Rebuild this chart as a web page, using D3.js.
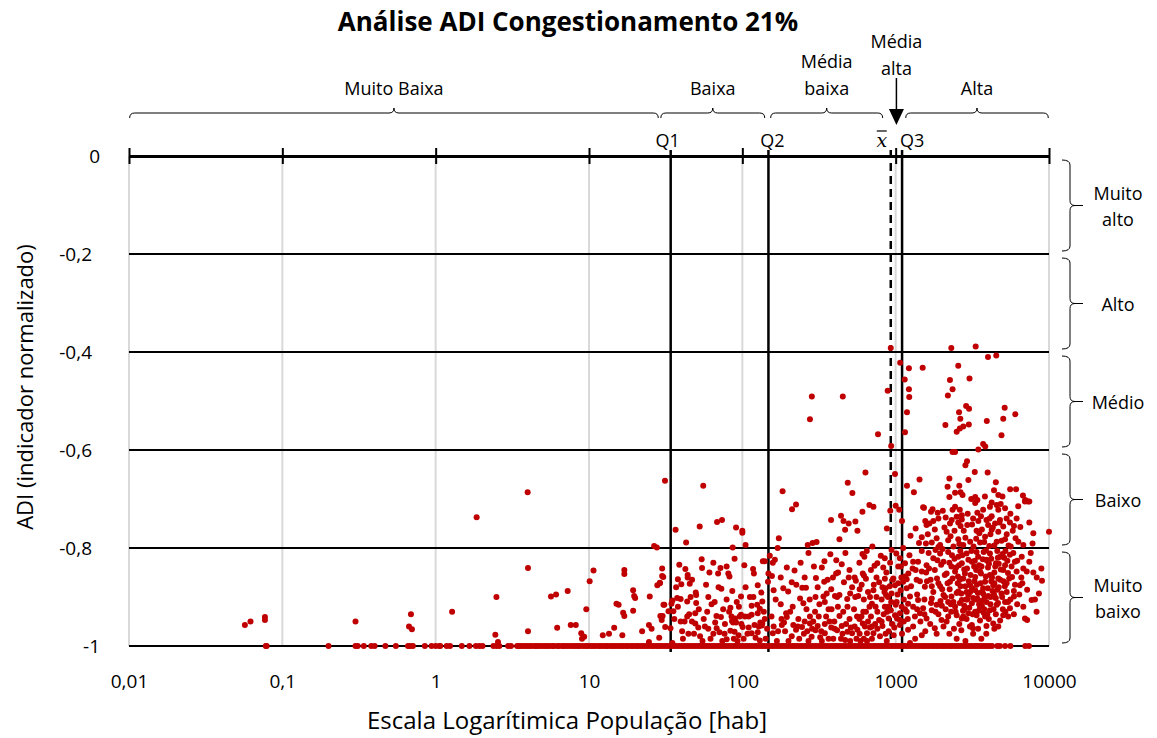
<!DOCTYPE html>
<html>
<head>
<meta charset="utf-8">
<script src="https://cdn.jsdelivr.net/npm/d3@7"></script>
<style>
  body { margin: 0; background: #fff; }
  svg { display: block; }
  text { font-family: "Open Sans", "Noto Sans", sans-serif; fill: #000; }
</style>
</head>
<body>
<svg id="chart" width="1157" height="738"></svg>
<script>
// ---- axis ticks ----
const xTickValues = [0.01, 0.1, 1, 10, 100, 1000, 10000];
const yTickValues = [0, -0.2, -0.4, -0.6, -0.8, -1];

// ---- statistics of the population distribution ----
const statNames  = ["Q1", "Q2", "x̄", "Q3"];
const statValues = [34.1, 148, 929, 1101];

// ---- population classes (top braces) ----
const popClassLabels = [["Muito Baixa"], ["Baixa"], ["Média", "baixa"], ["Alta"]];
const popClassRanges = [[0.0101, 28.3], [29.4, 140], [153, 823], [1163, 9894]];
const arrowClassLabel = ["Média", "alta"];   // class between mean and Q3

// ---- ADI classes (right braces) ----
const adiClassLabels = [["Muito", "alto"], ["Alto"], ["Médio"], ["Baixo"], ["Muito", "baixo"]];
const adiClassRanges = [[0, -0.2], [-0.2, -0.4], [-0.4, -0.6], [-0.6, -0.8], [-0.8, -1]];

// ---- municipalities with ADI = -1 (population, hab) ----
const popAtMinimum = [
  0.078, 0.079, 0.2, 0.3, 0.31, 0.34, 0.38, 0.4, 0.47, 0.55, 0.66, 0.68, 0.71, 0.85, 0.94, 1.0, 1.06, 1.07,
  1.18, 1.24, 1.48, 1.66, 1.83, 1.93, 2.02, 2.38, 2.5, 2.6, 2.97, 3.1, 3.4,
  3.5, 3.6, 3.75, 3.9, 4.05, 4.2, 4.4, 4.55, 4.7, 4.9, 5.1, 5.3, 5.5, 5.75, 5.9, 6.2, 6.4, 6.7, 6.9, 7.2,
  7.5, 7.8, 8.1, 8.4, 8.7, 9.1, 9.5, 9.8, 10.2, 10.6, 11, 11.5, 11.9, 12.4, 12.9, 13.3, 13.9, 14.4, 15,
  15.6, 16.2, 16.8, 17.5, 18.1, 18.9, 19.6, 20.4, 21.1, 22, 22.8, 23.7, 24.6, 25.6, 26.5, 27.6, 28.6,
  29.7, 30.9, 32.1, 33.3, 34.6, 35.9, 37.3, 38.8, 40.3, 41.8, 43.5, 45.1, 46.9, 48.7, 50.6, 52.5, 54.5,
  56.7, 58.8, 61.1, 63.5, 65.9, 68.5, 71.1, 73.8, 76.7, 79.6, 82.7, 85.9, 89.2, 92.7, 96.2, 99.9, 104,
  108, 112, 116, 121, 125, 130, 135, 140, 146, 151, 157, 163, 170, 176, 183, 190, 197, 205, 213, 221,
  229, 238, 247, 257, 267, 277, 288, 299, 310, 322, 335, 348, 361, 375, 390, 405, 420, 436, 453, 471,
  489, 508, 527, 548, 569, 591, 613, 637, 662, 687, 714, 741, 770, 800, 830, 862, 896, 930, 966, 1003,
  1040, 1080, 1125, 1170, 1210, 1260, 1310, 1360, 1410, 1470, 1520, 1580, 1640, 1710, 1770, 1840, 1910,
  1990, 2060, 2140, 2230, 2310, 2400, 2500, 2590, 2690, 2800, 2910, 3020, 3130, 3260, 3380, 3510, 3650,
  3790, 3940, 4090, 4250, 4600, 4780, 5170, 5600, 7000, 7400
];

// ---- municipalities [population, ADI] : very low population ----
const pointsVeryLow = [
  [0.057,-0.957],[0.062,-0.95],[0.077,-0.941],[0.077,-0.947],[0.3,-0.95],[0.69,-0.935],[0.67,-0.96],[0.7,-0.966],
  [1.85,-0.737],[3.98,-0.686],[4.0,-0.841],[4.0,-0.97],[1.28,-0.93],[2.49,-0.9],[2.45,-0.977],[2.55,-0.992],
  [5.65,-0.899],[6.1,-0.895],[7.26,-0.888],[6.2,-0.963],[7.6,-0.957],[8.2,-0.957],[8.9,-0.974],[9.3,-0.981],
  [9.0,-0.985],[9.6,-0.925],[10.1,-0.868],[10.7,-0.846],[12.3,-0.978],[13.5,-0.975],[14.6,-0.963],[15.1,-0.914],
  [15.6,-0.916],[16.5,-0.978],[16.7,-0.932],[17,-0.939],[17,-0.845],[17,-0.853],[19.4,-0.886],[19.7,-0.898],
  [20,-0.902],[19.4,-0.928],[22.2,-0.97],[24.6,-0.957],[25.6,-0.965],[24.9,-0.899],[24.6,-0.992],[26.6,-0.796],
  [27.7,-0.799],[27.9,-0.876],[29,-0.872],[30,-0.842],[30.5,-0.859],[31,-0.916],[29.2,-0.939],[29.8,-0.947],
  [30.2,-0.939],[31.3,-0.663],[28.7,-0.983],[31.4,-0.961],[30,-0.857],[29,-0.871],[30.6,-0.916],[33,-0.929]
];

// ---- low population (Q1 to Q2) ----
const pointsLow = [
  [55.6,-0.673],[36.7,-0.763],[52.7,-0.756],[68.4,-0.747],[73.7,-0.743],[91,-0.758],[100,-0.765],[100,-0.769],
  [86.5,-0.799],[43,-0.789],[54.3,-0.823],[54.6,-0.841],[64.7,-0.83],[61,-0.85],[69.5,-0.852],[72,-0.841],
  [79,-0.838],[81,-0.852],[82.4,-0.858],[89,-0.822],[103,-0.835],[117.5,-0.843],[119,-0.852],[136,-0.827],
  [140,-0.827],[38.8,-0.834],[42.5,-0.843],[44,-0.855],[44,-0.86],[38,-0.864],[40,-0.874],[45.4,-0.873],
  [49.7,-0.891],[50,-0.896],[60,-0.9],[73,-0.883],[86,-0.888],[79,-0.905],[98,-0.899],[83.6,-0.922],
  [50,-0.912],[37.6,-0.902],[39.6,-0.904],[43.7,-0.909],[35,-0.907],[34.5,-0.914],[35.5,-0.929],[115,-0.918],
  [125,-0.916],[130,-0.924],[135,-0.909],[126,-0.876],[133,-0.891],[115,-0.936],[126,-0.933],[98,-0.936],
  [85,-0.94],[89.6,-0.944],[87,-0.952],[96,-0.94],[67.8,-0.939],[72.5,-0.941],[66.5,-0.952],[68,-0.964],
  [71,-0.972],[49.3,-0.933],[49.3,-0.954],[51.6,-0.962],[45,-0.935],[43.7,-0.94],[42,-0.95],[39.6,-0.95],
  [46.9,-0.95],[34,-0.964],[40.5,-0.97],[44.5,-0.975],[48.4,-0.975],[53,-0.98],[64.7,-0.975],[76.6,-0.975],
  [83.6,-0.969],[85.6,-0.949],[91,-0.952],[98.6,-0.955],[89,-0.971],[94.5,-0.978],[100.5,-0.961],[110,-0.962],
  [108,-0.975],[115,-0.974],[126,-0.972],[131,-0.952],[134,-0.958],[122,-0.983],[130,-0.989],[79,-0.986],
  [35,-0.994],[120,-0.957],[135,-0.954],[37,-0.88],[47,-0.865],[58,-0.875],[63,-0.915],[75,-0.925],
  [92,-0.91],[105,-0.88],[112,-0.9],[140,-0.945],[36,-0.945],[56,-0.945],[62,-0.985],[93,-0.99],
  [104,-0.94],[145,-0.965],[57,-0.96],[147,-0.869],[148,-0.852],[105,-0.794],
  [38,-0.92],[41,-0.985],[46,-0.9],[52,-0.925],[55,-0.99],[59,-0.93],[66,-0.91],[70,-0.88],
  [77,-0.955],[82,-0.93],[95,-0.92],[102,-0.985],[110,-0.94],[118,-0.9],[128,-0.96],[138,-0.93],
  [142,-0.985],[60,-0.965],[74,-0.99],[88,-0.985]
];

// ---- medium-low population (Q2 to mean) ----
const pointsMediumLow = [
  [929,-0.392],[887,-0.479],[767,-0.568],[284,-0.491],[452,-0.491],[276,-0.537],[935,-0.592],[635,-0.646],
  [487,-0.667],[522,-0.688],[183,-0.684],[224,-0.711],[211,-0.721],[674,-0.712],[716,-0.716],[607,-0.726],
  [922,-0.724],[440,-0.734],[379,-0.743],[457,-0.745],[494,-0.75],[546,-0.746],[468,-0.763],[563,-0.765],
  [876,-0.76],[430,-0.782],[173,-0.78],[267,-0.794],[287,-0.79],[305,-0.788],[648,-0.806],[705,-0.797],
  [151,-0.816],[163,-0.824],[375,-0.813],[343,-0.827],[293,-0.838],[445,-0.833],[607,-0.812],[625,-0.818],
  [759,-0.831],[800,-0.816],[849,-0.821],[728,-0.836],[219,-0.846],[156,-0.857],[302,-0.861],[342,-0.869],
  [421,-0.85],[409,-0.852],[494,-0.86],[550,-0.867],[621,-0.856],[640,-0.863],[610,-0.852],[750,-0.86],
  [850,-0.863],[160,-0.886],[185,-0.882],[199,-0.889],[246,-0.881],[260,-0.881],[238,-0.903],[250,-0.913],
  [213,-0.92],[300,-0.9],[338,-0.899],[380,-0.884],[402,-0.898],[355,-0.893],[430,-0.896],[382,-0.925],
  [483,-0.904],[505,-0.893],[570,-0.898],[582,-0.884],[620,-0.905],[716,-0.886],[750,-0.9],[700,-0.914],
  [675,-0.92],[860,-0.882],[865,-0.896],[915,-0.878],[895,-0.92],[920,-0.927],[158,-0.974],[171,-0.97],
  [181,-0.957],[187,-0.952],[193,-0.933],[195,-0.941],[215,-0.957],[224,-0.967],[245,-0.961],[252,-0.975],
  [276,-0.94],[276,-0.954],[290,-0.95],[283,-0.981],[310,-0.959],[327,-0.97],[345,-0.974],[322,-0.982],
  [380,-0.962],[398,-0.95],[430,-0.939],[445,-0.959],[475,-0.955],[485,-0.971],[520,-0.974],[563,-0.967],
  [582,-0.975],[610,-0.954],[660,-0.95],[680,-0.962],[650,-0.974],[716,-0.974],[780,-0.947],[820,-0.959],
  [860,-0.975],[900,-0.944],[165,-0.905],[178,-0.915],[205,-0.93],[232,-0.945],[262,-0.925],[298,-0.93],
  [318,-0.915],[352,-0.94],[365,-0.925],[392,-0.985],[415,-0.968],[455,-0.93],[468,-0.988],[500,-0.945],
  [535,-0.925],[555,-0.985],[598,-0.94],[640,-0.93],[700,-0.985],[735,-0.955],[760,-0.93],[790,-0.98],
  [835,-0.935],[875,-0.99],[200,-0.99],[235,-0.985],[270,-0.99],[300,-0.968],[168,-0.99],[155,-0.94],
  [440,-0.985],[510,-0.962],[590,-0.99],[650,-0.99],[620,-0.985],[330,-0.99],[365,-0.985],[190,-0.97],
  [255,-0.95],[285,-0.965],[345,-0.955],[420,-0.92],[540,-0.96],[580,-0.945],[690,-0.94],[740,-0.92],
  [810,-0.905],[845,-0.89],[890,-0.9],[780,-0.87],[520,-0.88],[460,-0.87],[360,-0.865],[255,-0.86],
  [225,-0.875],[178,-0.86],[580,-0.83],[690,-0.845],[830,-0.84],[870,-0.85],
  [158,-0.83],[170,-0.8],[195,-0.84],[210,-0.87],[240,-0.83],[270,-0.81],[310,-0.88],[330,-0.84],
  [390,-0.86],[410,-0.825],[470,-0.81],[500,-0.845],[540,-0.86],[600,-0.875],[660,-0.89],[720,-0.875],
  [820,-0.88],[880,-0.93],[810,-0.95],[760,-0.965],[700,-0.96],[630,-0.96],[560,-0.94],[505,-0.99],
  [450,-0.975],[400,-0.965],[370,-0.95],[315,-0.94],[265,-0.97],[230,-0.96],[210,-0.98],[180,-0.945],
  [160,-0.96],[275,-0.905],[345,-0.91],[415,-0.9],[485,-0.92],[545,-0.9],[615,-0.93],[680,-0.9],
  [850,-0.92],[900,-0.97],[920,-0.83]
];

// ---- medium-high and high population (mean and above) ----
const pointsHigh = [
  [990,-0.649],[955,-0.865],[930,-0.927],[970,-0.978],[980,-0.962],[1000,-0.714],[1055,-0.722],
  [2306,-0.392],[3325,-0.389],[4000,-0.41],[4530,-0.407],[1070,-0.422],[1220,-0.433],[1500,-0.432],[2560,-0.428],
  [1145,-0.456],[2260,-0.457],[3030,-0.454],[1220,-0.476],[1226,-0.492],[2350,-0.476],[2190,-0.489],[1185,-0.523],
  [2590,-0.523],[2880,-0.51],[3010,-0.516],[2640,-0.536],[5140,-0.514],[6030,-0.527],[5030,-0.536],[3930,-0.541],
  [2110,-0.549],[3000,-0.548],[2620,-0.556],[2760,-0.552],[2500,-0.563],[1150,-0.564],[4900,-0.57],[3720,-0.588],
  [3840,-0.593],[3460,-0.599],[2350,-0.604],[2440,-0.604],[2920,-0.623],[2850,-0.631],[3280,-0.645],[3980,-0.646],
  [2240,-0.658],[1430,-0.66],[2980,-0.661],[4500,-0.666],[1185,-0.673],[2180,-0.675],[2600,-0.673],[1315,-0.686],
  [2440,-0.687],[2650,-0.686],[2730,-0.692],[4380,-0.682],[4670,-0.692],[4970,-0.695],[5580,-0.68],[6100,-0.68],
  [2240,-0.696],[3110,-0.7],[3300,-0.696],[3410,-0.702],[3820,-0.695],[4230,-0.707],[4560,-0.712],[4840,-0.71],
  [6760,-0.693],[7000,-0.702],[7440,-0.705],[1530,-0.718],[7300,-0.705],
  [1510,-0.717],[1700,-0.726],[1740,-0.721],[2030,-0.724],[2440,-0.716],[2620,-0.722],[2700,-0.733],[3300,-0.708],
  [3410,-0.728],[4120,-0.716],[4230,-0.735],[4670,-0.722],[5170,-0.719],[6970,-0.705],
  [1590,-0.753],[1660,-0.75],[1800,-0.762],[1900,-0.74],[2150,-0.767],[2260,-0.75],[2320,-0.743],[2500,-0.736],
  [2650,-0.755],[2930,-0.753],[3370,-0.765],[3510,-0.77],[3910,-0.743],[4010,-0.753],[4230,-0.763],[4450,-0.75],
  [4670,-0.767],[4790,-0.743],[5030,-0.756],[5290,-0.74],[5560,-0.748],[5910,-0.755],[6150,-0.74],[7440,-0.748],
  [7900,-0.77],[10000,-0.767],
  [1480,-0.778],[1575,-0.791],[1720,-0.789],[1850,-0.78],[1950,-0.794],[2200,-0.784],[2380,-0.797],[2560,-0.782],
  [2760,-0.794],[3060,-0.787],[3220,-0.797],[3550,-0.789],[3830,-0.777],[4080,-0.796],[4560,-0.787],[5170,-0.782],
  [5630,-0.797],[6310,-0.787],[6800,-0.794],[7810,-0.791],
  [940,-0.804],[1010,-0.811],[1065,-0.821],[1150,-0.831],[1300,-0.828],[1400,-0.828],[1590,-0.835],[1760,-0.821],
  [1950,-0.811],[2050,-0.828],[2200,-0.808],[2310,-0.838],[2560,-0.818],[2700,-0.831],[2900,-0.811],[3140,-0.828],
  [3370,-0.808],[3630,-0.838],[3910,-0.824],[4120,-0.811],[4510,-0.831],[4790,-0.818],[5170,-0.835],[5560,-0.814],
  [5990,-0.828],[6640,-0.818],[7160,-0.848],[7440,-0.828],[8920,-0.842],[8320,-0.86],[9000,-0.867],[8600,-0.893],
  [965,-0.862],[1040,-0.838],[1120,-0.869],[1210,-0.852],[1370,-0.865],[1480,-0.848],[1550,-0.879],[1690,-0.865],
  [1800,-0.845],[1900,-0.872],[2090,-0.855],[2260,-0.869],[2440,-0.848],[2620,-0.865],[2830,-0.852],[3060,-0.876],
  [3300,-0.859],[3550,-0.848],[3830,-0.869],[4120,-0.855],[4330,-0.876],[4670,-0.862],[5030,-0.845],[5290,-0.872],
  [5740,-0.859],[6150,-0.848],[6460,-0.876],[1040,-0.872],[1078,-0.886],[1180,-0.864],[1180,-0.882],[990,-0.876],
  [940,-0.893],[1015,-0.91],[1095,-0.92],[1240,-0.899],[1300,-0.92],[1400,-0.906],[1510,-0.923],[1720,-0.903],
  [1850,-0.916],[2050,-0.896],[2200,-0.91],[2310,-0.899],[2440,-0.92],[2560,-0.889],[2700,-0.906],[2830,-0.923],
  [2980,-0.896],[3140,-0.913],[3300,-0.886],[3410,-0.903],[3550,-0.92],[3720,-0.893],[3910,-0.91],[4120,-0.927],
  [4330,-0.899],[4560,-0.916],[4900,-0.893],[5170,-0.91],[5560,-0.923],[5910,-0.899],[6800,-0.92],[7700,-0.906],
  [6970,-0.944],[7200,-0.947],[1000,-0.916],[1066,-0.933],[1020,-0.944],[1150,-0.925],[1205,-0.914],
  [990,-0.937],[1065,-0.947],[1180,-0.93],[1335,-0.94],[1440,-0.933],[1590,-0.944],[1720,-0.927],[1800,-0.964],
  [1990,-0.947],[2050,-0.96],[2200,-0.94],[2500,-0.937],[2700,-0.944],[2980,-0.933],[3140,-0.957],[3190,-0.964],
  [3370,-0.937],[3830,-0.94],[3910,-0.959],[4330,-0.954],[4670,-0.96],[5030,-0.937],[5420,-0.94],[1480,-0.978],
  [1240,-0.994],[1066,-0.957],[1130,-0.95],[1205,-0.967],
  [1620,-0.772],[1760,-0.745],[2080,-0.758],[2280,-0.776],[2420,-0.765],[2700,-0.742],[2850,-0.779],[3150,-0.752],
  [3460,-0.745],[3650,-0.762],[3780,-0.788],[4150,-0.772],[4400,-0.795],[4750,-0.748],[5300,-0.772],[5800,-0.765],
  [6500,-0.757],[1900,-0.798],[2600,-0.792],[3350,-0.781],[4900,-0.785],[5450,-0.795],[6050,-0.78],[3600,-0.735],
  [4100,-0.74],[2950,-0.73],
  [1080,-0.838],[1230,-0.815],[1350,-0.845],[1480,-0.806],[1650,-0.842],[1820,-0.804],[1980,-0.834],[2150,-0.852],
  [2330,-0.815],[2480,-0.84],[2640,-0.806],[2800,-0.844],[2980,-0.824],[3080,-0.855],[3250,-0.838],[3450,-0.818],
  [3600,-0.852],[3750,-0.808],[4000,-0.84],[4200,-0.822],[4400,-0.85],[4600,-0.806],[4850,-0.844],[5100,-0.82],
  [5400,-0.851],[5700,-0.838],[6200,-0.826],[6800,-0.842],[7600,-0.81],[3350,-0.845],[2550,-0.858],[3950,-0.826],
  [4700,-0.832],[5200,-0.806],
  [1130,-0.905],[1260,-0.878],[1380,-0.895],[1540,-0.905],[1600,-0.868],[1760,-0.89],[1950,-0.878],[2100,-0.9],
  [2250,-0.884],[2380,-0.91],[2540,-0.872],[2680,-0.893],[2850,-0.878],[2930,-0.905],[3060,-0.89],[3200,-0.902],
  [3380,-0.875],[3500,-0.915],[3650,-0.89],[3800,-0.9],[3990,-0.882],[4150,-0.915],[4280,-0.888],[4500,-0.902],
  [4700,-0.88],[4950,-0.9],[5300,-0.89],[5600,-0.905],[6000,-0.875],[6400,-0.895],[7200,-0.885],[2000,-0.918],
  [2800,-0.918],[3650,-0.918],[4400,-0.872],[5050,-0.868],
  [1100,-0.975],[1300,-0.96],[1450,-0.95],[1680,-0.955],[1900,-0.935],[2150,-0.95],[2300,-0.93],[2600,-0.955],
  [2750,-0.928],[2900,-0.945],[3050,-0.96],[3300,-0.93],[3550,-0.948],[3750,-0.932],[4050,-0.945],[4500,-0.935],
  [4800,-0.948],[5200,-0.93],[5900,-0.935],[2400,-0.965],[3450,-0.965],[1850,-0.975],[2500,-0.985],[3900,-0.975],
  [1560,-0.745],[1880,-0.728],[2120,-0.738],[2350,-0.722],[2560,-0.748],[2780,-0.765],[3200,-0.74],[3720,-0.722],
  [4300,-0.758],[5600,-0.73],[6300,-0.715],
  [1420,-0.79],[1640,-0.81],[1870,-0.825],[2020,-0.802],[2240,-0.83],[2420,-0.822],[2590,-0.835],[2720,-0.815],
  [2920,-0.842],[3120,-0.806],[3280,-0.826],[3500,-0.835],[3700,-0.823],[3880,-0.805],[4060,-0.832],[4250,-0.86],
  [4460,-0.838],[4640,-0.82],[4980,-0.812],[5350,-0.826],[5850,-0.81],[6600,-0.86],[7900,-0.85],
  [1150,-0.858],[1290,-0.842],[1440,-0.868],[1580,-0.85],[1720,-0.878],[1860,-0.862],[2010,-0.884],[2180,-0.872],
  [2350,-0.862],[2500,-0.892],[2650,-0.878],[2760,-0.862],[2900,-0.89],[3000,-0.868],[3150,-0.882],[3270,-0.868],
  [3440,-0.892],[3580,-0.872],[3720,-0.882],[3870,-0.858],[4020,-0.898],[4200,-0.868],[4380,-0.895],[4600,-0.885],
  [4800,-0.865],[5150,-0.878],[5500,-0.862],[5900,-0.888],[6700,-0.872],[8100,-0.905],
  [1200,-0.945],[1380,-0.925],[1540,-0.935],[1700,-0.912],[1820,-0.93],[1960,-0.908],[2120,-0.925],[2290,-0.915],
  [2460,-0.93],[2620,-0.912],[2760,-0.94],[2880,-0.905],[3020,-0.922],[3180,-0.935],[3330,-0.905],[3480,-0.928],
  [3620,-0.908],[3780,-0.925],[3960,-0.935],[4150,-0.9],[4350,-0.925],[4650,-0.912],[5000,-0.925],[5400,-0.91],
  [6200,-0.915],[8300,-0.93],
  [1560,-0.97],[2240,-0.975],[2680,-0.968],[3620,-0.985],[4400,-0.965],[1340,-0.985],[2850,-0.99],[3200,-0.975],
  [935,-0.91],[950,-0.955],[1030,-0.895],[1090,-0.86],[1120,-0.8],[1250,-0.775],[1350,-0.76],[1100,-0.745]
];

// ---- layout ----
const svg = d3.select("#chart");
const plot = { left: 129, right: 1049, top: 156, bottom: 646 };

const x = d3.scaleLog().domain([0.01, 10000]).range([plot.left, plot.right]);
const y = d3.scaleLinear().domain([-1, 0]).range([plot.bottom, plot.top]);

const fmtX = d => String(d).replace(".", ",");
const fmtY = d => String(d).replace(".", ",");
const FONT = "'Open Sans', 'Noto Sans', sans-serif";

// title
svg.append("text")
  .attr("x", 568).attr("y", 31)
  .attr("text-anchor", "middle")
  .style("font-size", "26px").style("font-weight", "bold")
  .text("Análise ADI Congestionamento 21%");

// vertical light grid at each decade
svg.append("g").selectAll("line").data(xTickValues).join("line")
  .attr("x1", d => x(d)).attr("x2", d => x(d))
  .attr("y1", plot.top).attr("y2", plot.bottom)
  .attr("stroke", "#d9d9d9").attr("stroke-width", 2);

// horizontal black grid
svg.append("g").selectAll("line").data(yTickValues.filter(d => d !== 0)).join("line")
  .attr("x1", plot.left).attr("x2", plot.right)
  .attr("y1", d => y(d)).attr("y2", d => y(d))
  .attr("stroke", "#000").attr("stroke-width", 2);

// main axis on the zero line, with crossing ticks
const topAxis = svg.append("g")
  .attr("transform", `translate(0,${y(0)})`)
  .call(d3.axisTop(x).tickValues(xTickValues).tickFormat("").tickSizeOuter(0).tickSizeInner(8));
topAxis.select(".domain").attr("stroke", "#000").attr("stroke-width", 3);
topAxis.selectAll(".tick line").attr("y1", 8).attr("y2", -8).attr("stroke", "#000").attr("stroke-width", 2);

// x tick labels along the bottom
const bottomAxis = svg.append("g")
  .attr("transform", `translate(0,${plot.bottom + 25})`)
  .call(d3.axisBottom(x).tickValues(xTickValues).tickFormat(fmtX).tickSize(0));
bottomAxis.select(".domain").remove();
bottomAxis.selectAll("text")
  .style("font-family", FONT).style("font-size", "19px").attr("fill", "#000");

// y tick labels
const leftAxis = svg.append("g")
  .attr("transform", `translate(${plot.left - 26},0)`)
  .call(d3.axisLeft(y).tickValues(yTickValues).tickFormat(fmtY).tickSize(0));
leftAxis.select(".domain").remove();
leftAxis.selectAll("text")
  .style("font-family", FONT).style("font-size", "19px").attr("fill", "#000")
  .attr("dx", d => Number.isInteger(d) ? 0 : -8);

// quartile and mean lines
statValues.forEach((v, i) => {
  const isMean = statNames[i] === "x̄";
  svg.append("line")
    .attr("x1", x(v)).attr("x2", x(v))
    .attr("y1", plot.top - 6)
    .attr("y2", isMean ? plot.bottom : plot.bottom + 6)
    .attr("stroke", "#000").attr("stroke-width", 2.5)
    .attr("stroke-dasharray", isMean ? "8,5" : null);
});

// labels of the statistics
const statLabelDx = [-3, 4, -9, 10];
statValues.forEach((v, i) => {
  if (statNames[i] === "x̄") {
    const cx = x(v) + statLabelDx[i];
    svg.append("text").attr("x", cx).attr("y", 147)
      .attr("text-anchor", "middle")
      .style("font-family", "'DejaVu Serif', 'Liberation Serif', serif")
      .style("font-style", "italic").style("font-size", "19px")
      .text("x");
    svg.append("line").attr("x1", cx - 5).attr("x2", cx + 5)
      .attr("y1", 131).attr("y2", 131).attr("stroke", "#000").attr("stroke-width", 1.2);
  } else {
    svg.append("text").attr("x", x(v) + statLabelDx[i]).attr("y", 147)
      .attr("text-anchor", "middle").style("font-size", "18px")
      .text(statNames[i]);
  }
});

// scatter points
const allPoints = [
  ...popAtMinimum.map(p => [p, -1]),
  ...pointsVeryLow, ...pointsLow, ...pointsMediumLow, ...pointsHigh
];
svg.append("g").selectAll("circle").data(allPoints).join("circle")
  .attr("cx", d => x(d[0])).attr("cy", d => y(d[1]))
  .attr("r", 3).attr("fill", "#c00000");

// horizontal curly brace (ends curl down, tip points up)
function hBrace(x1, x2, yb) {
  const m = (x1 + x2) / 2, r = 5, d = 5;
  return `M${x1},${yb + d} Q${x1},${yb} ${x1 + r},${yb} L${m - r},${yb} Q${m},${yb} ${m},${yb - d}` +
         ` Q${m},${yb} ${m + r},${yb} L${x2 - r},${yb} Q${x2},${yb} ${x2},${yb + d}`;
}
// vertical curly brace (ends to the left, tip to the right)
function vBrace(y1, y2, xb) {
  const m = (y1 + y2) / 2, r = 5, d = 8;
  return `M${xb - d},${y1} Q${xb},${y1} ${xb},${y1 + r} L${xb},${m - r} Q${xb},${m} ${xb + 5},${m} L${xb + 13},${m}` +
         ` M${xb + 5},${m} Q${xb},${m} ${xb},${m + r} L${xb},${y2 - r} Q${xb},${y2} ${xb - d},${y2}`;
}

// population class braces and labels
const braceY = 113;
popClassRanges.forEach((rg, i) => {
  const x1 = x(rg[0]), x2 = x(rg[1]);
  svg.append("path").attr("d", hBrace(x1, x2, braceY))
    .attr("fill", "none").attr("stroke", "#000").attr("stroke-width", 1);
  const lines = popClassLabels[i];
  const cx = (x1 + x2) / 2;
  lines.forEach((t, j) => {
    svg.append("text").attr("x", cx).attr("y", 95 - (lines.length - 1 - j) * 27)
      .attr("text-anchor", "middle").style("font-size", "18px").text(t);
  });
});

// arrow for the narrow class between mean and Q3
const ax = (x(statValues[2]) + x(statValues[3])) / 2;
svg.append("line").attr("x1", ax).attr("x2", ax).attr("y1", 78).attr("y2", 111)
  .attr("stroke", "#000").attr("stroke-width", 1.5);
svg.append("path")
  .attr("d", `M${ax - 7.5},109 L${ax + 7.5},109 L${ax},125 Z`).attr("fill", "#000");
arrowClassLabel.forEach((t, j) => {
  svg.append("text").attr("x", ax).attr("y", 48 + j * 27)
    .attr("text-anchor", "middle").style("font-size", "18px").text(t);
});

// ADI class braces on the right
const braceX = 1070;
adiClassRanges.forEach((rg, i) => {
  const y1 = y(rg[0]) + 4, y2 = y(rg[1]) - 3;
  svg.append("path").attr("d", vBrace(y1, y2, braceX))
    .attr("fill", "none").attr("stroke", "#000").attr("stroke-width", 1);
  const lines = adiClassLabels[i];
  const cy = (y1 + y2) / 2;
  lines.forEach((t, j) => {
    svg.append("text").attr("x", 1118)
      .attr("y", cy + 7 + (j - (lines.length - 1) / 2) * 26)
      .attr("text-anchor", "middle").style("font-size", "18px").text(t);
  });
});

// axis titles
svg.append("text").attr("x", 567).attr("y", 729)
  .attr("text-anchor", "middle").style("font-size", "24px")
  .text("Escala Logarítimica População [hab]");
svg.append("text")
  .attr("transform", `translate(33,${(plot.top + plot.bottom) / 2 - 14}) rotate(-90)`)
  .attr("text-anchor", "middle").style("font-size", "22px")
  .text("ADI (indicador normalizado)");
</script>
</body>
</html>
